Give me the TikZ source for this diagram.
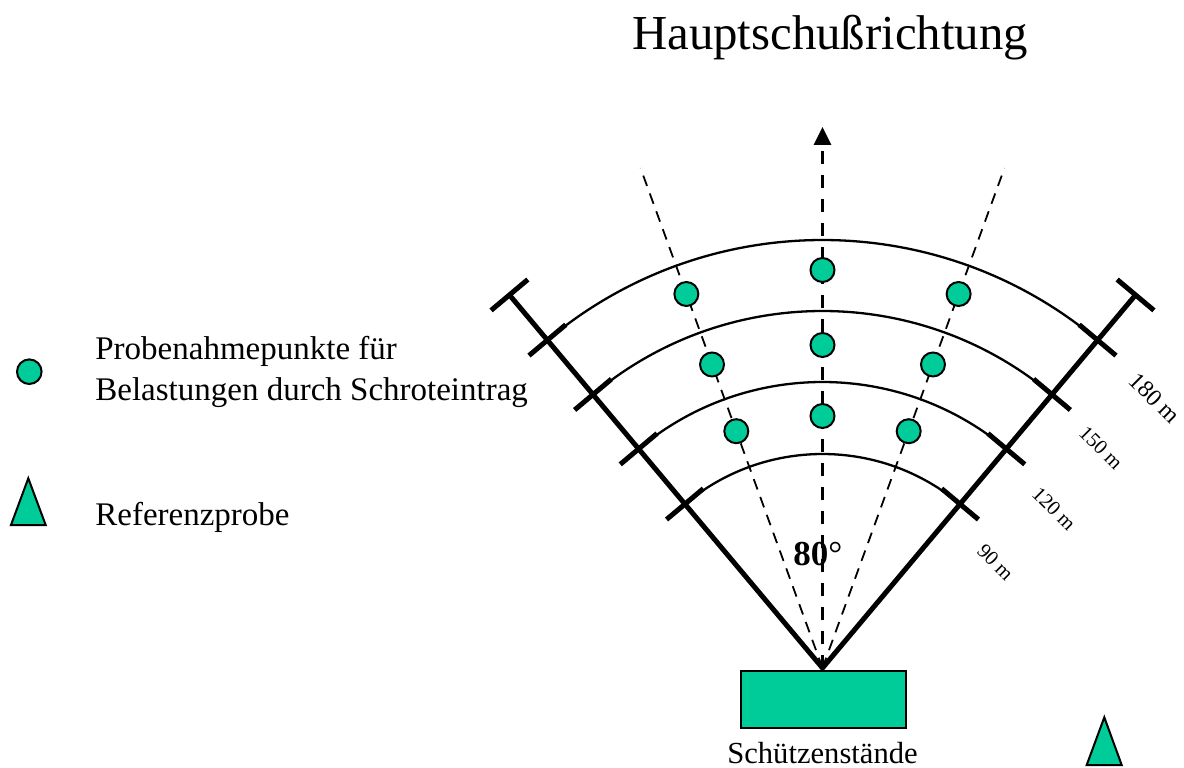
\documentclass[tikz,border=0pt]{standalone}
\usepackage{fontspec}
\setmainfont{Liberation Serif}
\usetikzlibrary{arrows.meta}
\definecolor{probegreen}{RGB}{0,204,153}
\tikzset{
  probe/.style={circle, draw, line width=1pt, fill=probegreen, minimum size=12pt, inner sep=0pt},
  stand/.style={rectangle, draw, line width=1pt, fill=probegreen, minimum width=82.5pt, minimum height=28.5pt, inner sep=0pt},
  refmark/.style={draw, line width=1pt, fill=probegreen, line join=miter},
  edge/.style={line width=2.5pt},
  ring/.style={line width=1.15pt},
  mainaxis/.style={line width=1.6pt, dash pattern=on 6.7pt off 5.3pt, -{Triangle[length=9pt,width=8.5pt]}},
  sideaxis/.style={line width=0.9pt, dash pattern=on 5.5pt off 4pt},
  dist/.style={rotate=-45, inner sep=0pt, font=\fontsize{10.25}{12}\selectfont},
  legend/.style={anchor=base west, inner sep=0pt, font=\fontsize{16.5}{20}\selectfont}
}
\begin{document}
\begin{tikzpicture}[x=0.5pt, y=0.5pt]
  \useasboundingbox (-822.5,-99) rectangle (361.5,668);
  \coordinate (apex) at (0,0);

  % Titel
  \node[anchor=base, inner sep=0pt, font=\fontsize{24.4}{29}\selectfont] (title) at (7.5,618) {Hauptschußrichtung};

  % Schussrichtungen
  \coordinate (aim)  at (90:541);
  \coordinate (aimL) at (110:532);
  \coordinate (aimR) at (70:532);
  \draw[mainaxis] (apex) -- (aim);
  \draw[sideaxis] (apex) -- (aimL);
  \draw[sideaxis] (apex) -- (aimR);

  % Entfernungsboegen
  \foreach \r in {214,286,357,428}
    \draw[ring] (50:\r) arc[start angle=50, end angle=130, radius=\r];

  % Begrenzung
  \coordinate (Lend) at (130:487);
  \coordinate (Rend) at (50:487);
  \draw[edge, line join=miter] (Lend) -- (apex) -- (Rend);
  \foreach \r in {214,286,357,428,487}
    \foreach \a in {50,130}
      \draw[edge, shift={(\a:\r)}] (\a-90:24) -- (\a+90:24);

  % Probenahmepunkte
  \foreach \a/\n in {110/L,90/M,70/R}
    \foreach \r/\k in {252/1,323/2,398/3}
      \node[probe] (p\n\k) at (\a:\r) {};

  % Entfernungen
  \node[dist] (d90)  at (173,106)   {90 m};
  \node[dist] (d120) at (231.5,159) {120 m};
  \node[dist] (d150) at (278.5,220) {150 m};
  \node[dist, font=\fontsize{12}{14}\selectfont] (d180) at (332.5,270) {180 m};

  \node[anchor=base west, inner sep=0pt, font=\fontsize{17.5}{21}\selectfont] (angle) at (-29.5,103) {\textbf{80}°};

  % Schuetzenstaende
  \node[stand] (stand) at (1,-31.5) {};
  \node[anchor=base, inner sep=0pt, font=\fontsize{15.3}{18}\selectfont] (standtxt) at (0,-95) {Schützenstände};
  \draw[refmark] (281.8,-49.3) -- (264.2,-97) -- (299.2,-97) -- cycle;

  % Legende
  \node[probe, minimum size=12.3pt] (legdot) at (-793.2,296.3) {};
  \node[legend] (legA) at (-727.5,308) {Probenahmepunkte für};
  \node[legend] (legB) at (-727.5,268) {Belastungen durch Schroteintrag};
  \draw[refmark] (-794.2,189.7) -- (-811.5,143) -- (-776.8,143) -- cycle;
  \node[legend] (legC) at (-727.5,143) {Referenzprobe};
\end{tikzpicture}
\end{document}
